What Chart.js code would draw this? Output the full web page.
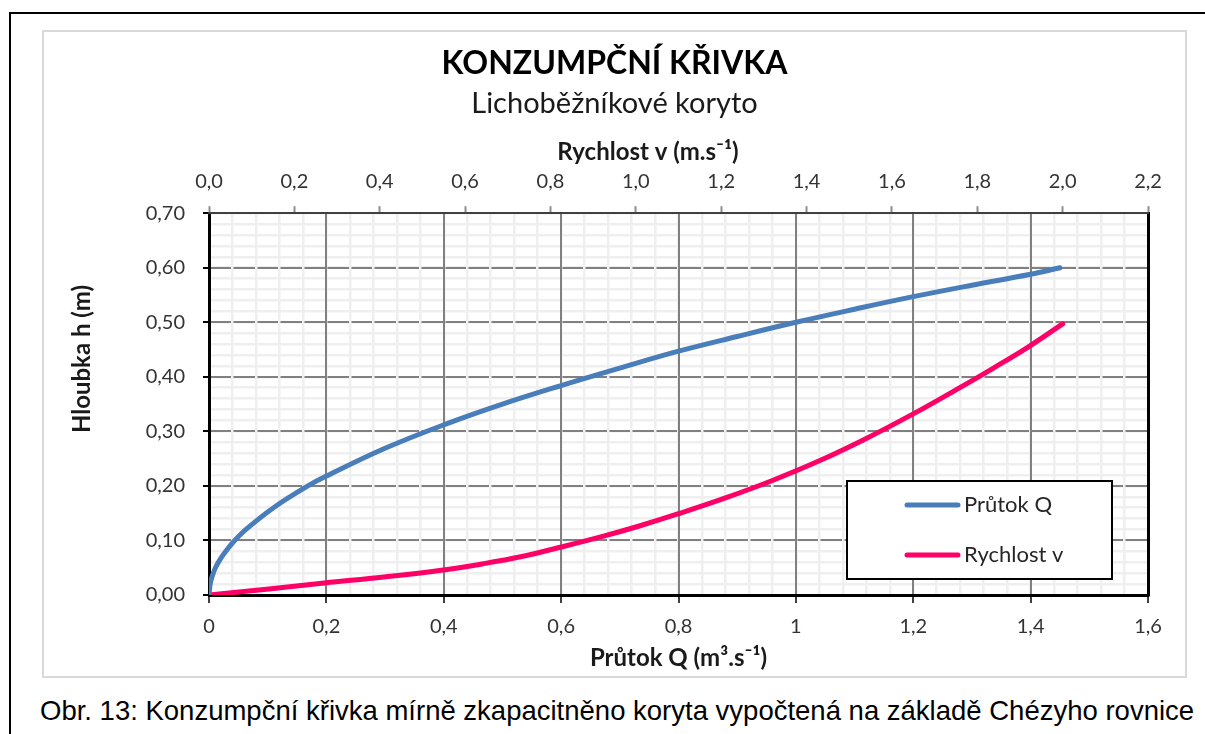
<!DOCTYPE html>
<html>
<head>
<meta charset="utf-8">
<script src="https://cdn.jsdelivr.net/npm/chart.js@4.4.1/dist/chart.umd.min.js"></script>
<style>
  body { margin: 0; background: #fff; width: 1205px; height: 734px; overflow: hidden; position: relative; }
  .outer { position: absolute; left: 9px; top: 12px; width: 1300px; height: 800px; border-top: 2px solid #000; border-left: 2px solid #000; }
  .frame { position: absolute; left: 42px; top: 30px; width: 1141px; height: 644px; border: 2px solid #d9d9d9; background: #fff; }
  .caption { position: absolute; left: 40px; top: 697px; font-family: "Liberation Sans", Arial, sans-serif; font-size: 27.5px; line-height: 1; color: #000; white-space: nowrap; }
</style>
</head>
<body>
<div class="outer"></div>
<div class="frame"><canvas id="chart" width="1141" height="644"></canvas></div>
<div class="caption">Obr. 13: Konzumpční křivka mírně zkapacitněno koryta vypočtená na základě Chézyho rovnice</div>
<script>
// hodnoty
const prutokQ = [0, 0.002, 0.006, 0.011, 0.020, 0.030, 0.043, 0.065, 0.110, 0.167, 0.20, 0.30, 0.40, 0.50, 0.60, 0.70, 0.80, 0.90, 1.00, 1.10, 1.20, 1.30, 1.40, 1.45];
const hloubkaQ = [0, 0.020, 0.036, 0.050, 0.067, 0.082, 0.099, 0.122, 0.160, 0.199, 0.218, 0.269, 0.312, 0.350, 0.384, 0.416, 0.447, 0.474, 0.500, 0.524, 0.547, 0.568, 0.588, 0.600];

const rychlostV = [0, 0.14, 0.27, 0.41, 0.54, 0.64, 0.73, 0.82, 0.92, 1.01, 1.10, 1.21, 1.32, 1.43, 1.54, 1.65, 1.75, 1.84, 1.92, 2.00];
const hloubkaV = [0, 0.011, 0.022, 0.033, 0.045, 0.057, 0.070, 0.087, 0.107, 0.127, 0.149, 0.178, 0.210, 0.246, 0.287, 0.332, 0.376, 0.417, 0.455, 0.497];

const seriesLabels = ['Průtok Q', 'Rychlost v'];
const seriesColors = ['#4a7ebb', '#ff0066'];

const chartTitle = 'KONZUMPČNÍ KŘIVKA';
const chartSubtitle = 'Lichoběžníkové koryto';
const xTitle = 'Průtok Q (m³.s⁻¹)';
const x2Title = 'Rychlost v (m.s⁻¹)';
const yTitle = 'Hloubka h (m)';

const FONT = 'Lato, "Open Sans", sans-serif';
const comma = (s) => s.replace('.', ',');

// vlastni legenda v ramecku + popisky os y a horni osy x
const extrasPlugin = {
    id: 'extras',
    afterDraw(chart) {
        const ctx = chart.ctx;
        ctx.save();
        ctx.font = 'bold 24px ' + FONT;
        ctx.fillStyle = '#1a1a1a';
        ctx.textAlign = 'center';
        ctx.textBaseline = 'middle';
        ctx.fillText(x2Title, 604, 120);
        ctx.translate(38, 327);
        ctx.rotate(-Math.PI / 2);
        ctx.fillText(yTitle, 0, 0);
        ctx.restore();

        // legenda
        ctx.save();
        ctx.fillStyle = '#fff';
        ctx.fillRect(803, 449, 265, 98);
        ctx.strokeStyle = '#000';
        ctx.lineWidth = 2;
        ctx.strokeRect(803, 449, 265, 98);
        chart.data.datasets.forEach((ds, i) => {
            const y = 473 + i * 50;
            ctx.strokeStyle = ds.borderColor;
            ctx.lineWidth = 5;
            ctx.lineCap = 'round';
            ctx.beginPath();
            ctx.moveTo(863, y);
            ctx.lineTo(914, y);
            ctx.stroke();
            ctx.fillStyle = '#262626';
            ctx.font = '22px ' + FONT;
            ctx.textAlign = 'left';
            ctx.textBaseline = 'middle';
            ctx.fillText(ds.label, 920, y);
        });
        ctx.restore();
    }
};

const ctx = document.getElementById('chart').getContext('2d');
new Chart(ctx, {
    type: 'scatter',
    data: {
        datasets: [
            {
                label: seriesLabels[0],
                data: prutokQ.map((q, i) => ({ x: q, y: hloubkaQ[i] })),
                xAxisID: 'x',
                yAxisID: 'y',
                borderColor: seriesColors[0],
                backgroundColor: seriesColors[0]
            },
            {
                label: seriesLabels[1],
                data: rychlostV.map((v, i) => ({ x: v, y: hloubkaV[i] })),
                xAxisID: 'x2',
                yAxisID: 'y',
                borderColor: seriesColors[1],
                backgroundColor: seriesColors[1]
            }
        ]
    },
    options: {
        responsive: false,
        animation: false,
        layout: { padding: 0 },
        datasets: {
            scatter: {
                showLine: true,
                pointRadius: 0,
                borderWidth: 5,
                borderCapStyle: 'round',
                borderJoinStyle: 'round',
                tension: 0.4,
                cubicInterpolationMode: 'default'
            }
        },
        plugins: {
            legend: { display: false },
            tooltip: { enabled: false },
            title: {
                display: true,
                text: chartTitle,
                color: '#000',
                font: { family: FONT, size: 32, weight: 'bold', lineHeight: 1.2 },
                padding: { top: 12, bottom: 4 }
            },
            subtitle: {
                display: true,
                text: chartSubtitle,
                color: '#1a1a1a',
                font: { family: FONT, size: 29, weight: 'normal', lineHeight: 1.2 },
                padding: { top: 0, bottom: 0 }
            }
        },
        scales: {
            ym: {
                type: 'linear',
                position: 'right',
                min: 0, max: 0.7,
                ticks: { display: false, stepSize: 0.02, autoSkip: false },
                grid: { color: '#efefef', lineWidth: 2.5, drawTicks: false, z: -4 },
                border: { display: true, color: '#000', width: 3 },
                afterFit: (s) => { s.width = 37; }
            },
            y: {
                type: 'linear',
                position: 'left',
                min: 0, max: 0.7,
                ticks: {
                    stepSize: 0.1,
                    padding: 18,
                    color: '#333',
                    font: { family: FONT, size: 20 },
                    callback: (v) => comma(v.toFixed(2))
                },
                grid: { color: '#808080', lineWidth: 2, tickLength: 6, tickColor: '#000', tickWidth: 2, z: -3 },
                border: { color: '#000', width: 3 },
                afterFit: (s) => { s.width = 165; }
            },
            xm: {
                type: 'linear',
                position: 'bottom',
                min: 0, max: 1.6,
                ticks: { display: false, stepSize: 0.04, autoSkip: false },
                grid: { color: '#efefef', lineWidth: 2.5, drawTicks: false, z: -2 },
                border: { display: false },
                afterFit: (s) => { s.height = 0; }
            },
            x: {
                type: 'linear',
                position: 'bottom',
                min: 0, max: 1.6,
                ticks: {
                    stepSize: 0.2,
                    padding: 12,
                    maxRotation: 0,
                    autoSkip: false,
                    color: '#333',
                    font: { family: FONT, size: 20 },
                    callback: (v) => comma(String(+v.toFixed(1)))
                },
                grid: { color: '#808080', lineWidth: 2, tickLength: 8, tickColor: '#404040', tickWidth: 2, z: -1 },
                border: { color: '#000', width: 3 },
                title: {
                    display: true,
                    text: xTitle,
                    color: '#1a1a1a',
                    font: { family: FONT, size: 24, weight: 'bold', lineHeight: 1.2 },
                    padding: { top: 0, bottom: 3 }
                },
                afterFit: (s) => { s.height = 81; }
            },
            x2: {
                type: 'linear',
                position: 'top',
                min: 0, max: 2.2,
                ticks: {
                    stepSize: 0.2,
                    padding: 13,
                    maxRotation: 0,
                    autoSkip: false,
                    color: '#333',
                    font: { family: FONT, size: 20 },
                    callback: (v) => comma(v.toFixed(1))
                },
                grid: { drawOnChartArea: false, color: '#808080', tickLength: 7, tickColor: '#8c8c8c', tickWidth: 2 },
                border: { color: '#404040', width: 2 },
                afterFit: (s) => { s.height = 92; }
            }
        }
    },
    plugins: [extrasPlugin]
});
</script>
</body>
</html>
